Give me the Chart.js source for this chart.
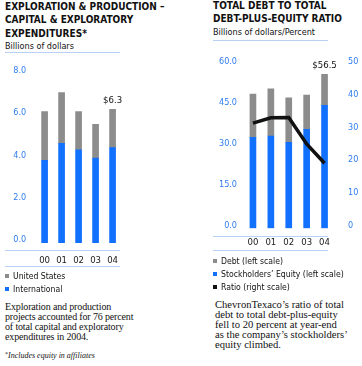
<!DOCTYPE html>
<html>
<head>
<meta charset="utf-8">
<script src="https://cdn.jsdelivr.net/npm/chart.js@4.4.1/dist/chart.umd.min.js"></script>
<style>
  html, body { margin:0; padding:0; background:#fff; }
  body { width:362px; height:366px; position:relative; overflow:hidden; }
  .abs { position:absolute; white-space:nowrap; }
  .sans { font-family:"Liberation Sans Narrow","Arial Narrow","DejaVu Sans Condensed","Liberation Sans",sans-serif; }
  .serif { font-family:"Liberation Serif","Times New Roman",serif; }
  .title { font-weight:bold; font-size:10px; line-height:13.3px; color:#111; }
  .sub { font-size:9px; line-height:12px; color:#111; }
  .rule { position:absolute; height:1px; background:#b9d0f5; }
  .leg { font-size:8.6px; line-height:12px; color:#111; }
  .sq { display:inline-block; width:4px; height:4px; margin-right:4px; vertical-align:1px; }
  .para { font-size:10px; line-height:10.2px; color:#111; }
  canvas { position:absolute; }
</style>
</head>
<body>
<div class="abs sans title" style="left:5px;top:0px;">EXPLORATION &amp; PRODUCTION –<br>CAPITAL &amp; EXPLORATORY<br>EXPENDITURES*</div>
<div class="abs sans sub" style="left:5px;top:39.7px;">Billions of dollars</div>
<div class="rule" style="left:5px;top:52px;width:115px;"></div>

<div class="abs sans title" style="left:213px;top:0px;line-height:12.7px;">TOTAL DEBT TO TOTAL<br>DEBT-PLUS-EQUITY RATIO</div>
<div class="abs sans sub" style="left:213px;top:26.3px;">Billions of dollars/Percent</div>
<div class="rule" style="left:213px;top:39.5px;width:115px;"></div>

<canvas id="cL" width="130" height="215" style="left:0px;top:55px;width:130px;height:215px;"></canvas>
<canvas id="cR" width="162" height="210" style="left:200px;top:45px;width:162px;height:210px;"></canvas>

<div class="rule" style="left:5px;top:249.5px;width:115px;"></div>
<div class="rule" style="left:5px;top:265.5px;width:115px;"></div>
<div class="rule" style="left:213px;top:235.5px;width:115px;"></div>
<div class="rule" style="left:213px;top:249.5px;width:115px;"></div>

<div id="legL"></div>
<div id="legR"></div>

<div class="abs serif para" style="left:5px;top:301.5px;letter-spacing:-0.15px;">Exploration and production<br>projects accounted for 76 percent<br>of total capital and exploratory<br>expenditures in 2004.</div>
<div class="abs serif" style="left:5px;top:349px;font-size:8px;line-height:10px;font-style:italic;color:#111;"><span style="font-size:6px;vertical-align:2px;font-style:normal;">*</span>Includes equity in affiliates</div>

<div class="abs serif para" style="left:215px;top:300px;line-height:10px;font-size:10.6px;">ChevronTexaco’s ratio of total<br>debt to total debt-plus-equity<br>fell to 20 percent at year-end<br>as the company’s stockholders’<br>equity climbed.</div>

<script>
// ---- data ----
const years = ['00','01','02','03','04'];
// Exploration & production capital and exploratory expenditures, $ billions
const epIntl = [3.9, 4.7, 4.4, 4.0, 4.5];
const epUS   = [2.3, 2.4, 1.8, 1.6, 1.8];
// Total debt / equity, $ billions; ratio, percent
const equity = [33.4, 33.9, 31.6, 36.3, 45.2];
const debt   = [15.9, 17.3, 16.3, 12.6, 11.3];
const ratio  = [32.2, 33.8, 33.9, 25.8, 19.9];
// axis ticks
const leftTicks  = [0, 2, 4, 6, 8];
const rightLTicks = [0, 15, 30, 45, 60];
const rightRTicks = [0, 10, 20, 30, 40, 50];

const BLUE = '#1270ff';
const GRAY = '#8c8c8c';
const TICKBLUE = '#2f7df2';
const SANS = '"Liberation Sans Narrow","Arial Narrow","DejaVu Sans Condensed","Liberation Sans",sans-serif';

// HTML legends
function legend(id, items, left, tops) {
  const el = document.getElementById(id);
  items.forEach((it, i) => {
    const d = document.createElement('div');
    d.className = 'abs sans leg';
    d.style.left = left + 'px';
    d.style.top = (tops[i] - 6) + 'px';
    d.innerHTML = '<span class="sq" style="background:' + it[1] + '"></span>' + it[0];
    el.appendChild(d);
  });
}
legend('legL', [['United States', GRAY], ['International', BLUE]], 5, [275.7, 289.3]);
legend('legR', [['Debt (left scale)', GRAY], ['Stockholders’ Equity (left scale)', BLUE], ['Ratio (right scale)', '#111']], 213, [260.5, 273.5, 286.5]);

// value label on top of last stacked bar
const topLabel = {
  id: 'topLabel',
  afterDatasetsDraw(chart, args, opts) {
    const meta = chart.getDatasetMeta(opts.dataset);
    const el = meta.data[opts.index];
    const ctx = chart.ctx;
    ctx.save();
    ctx.font = '9.5px ' + SANS;
    ctx.fillStyle = '#111';
    ctx.textAlign = 'center';
    ctx.textBaseline = 'middle';
    ctx.fillText(opts.text, el.x, el.y - 8.8);
    ctx.restore();
  }
};

function tickOpts(pad, extra) {
  return Object.assign({
    color: TICKBLUE,
    font: { family: SANS, size: 9 },
    padding: pad,
    labelOffset: -3,
    autoSkip: false,
  }, extra || {});
}

const xScale = (h, pad) => ({
  stacked: true,
  grid: { display: false, drawTicks: false },
  border: { display: false },
  ticks: { color: '#222', font: { family: SANS, size: 9.5 }, padding: pad, maxRotation: 0 },
  afterFit(s) { s.height = h; }
});

new Chart(document.getElementById('cL'), {
  type: 'bar',
  data: {
    labels: years,
    datasets: [
      { label: 'International', data: epIntl, backgroundColor: BLUE, barThickness: 6, stack: 's' },
      { label: 'United States', data: epUS, backgroundColor: GRAY, barThickness: 6, stack: 's' }
    ]
  },
  options: {
    responsive: false, animation: false, devicePixelRatio: 1,
    layout: { padding: { top: 18.4, right: 4.9, bottom: 0, left: 0 } },
    plugins: {
      legend: { display: false }, tooltip: { enabled: false },
      topLabel: { dataset: 1, index: 4, text: '$' + (epIntl[4] + epUS[4]).toFixed(1) }
    },
    scales: {
      x: xScale(27, 11.5),
      y: {
        stacked: true, min: leftTicks[0], max: leftTicks[leftTicks.length - 1],
        afterBuildTicks(s) { s.ticks = leftTicks.map(v => ({ value: v })); },
        ticks: tickOpts(10, { callback: v => Number(v).toFixed(1) }),
        grid: { display: false, drawTicks: false },
        border: { display: false },
        afterFit(s) { s.width = 36.1; }
      }
    }
  },
  plugins: [topLabel]
});

new Chart(document.getElementById('cR'), {
  type: 'bar',
  data: {
    labels: years,
    datasets: [
      { type: 'line', label: 'Ratio (right scale)', data: ratio, yAxisID: 'y1', borderColor: '#111', borderWidth: 3.5,
        pointRadius: 0, tension: 0, order: 0, borderCapStyle: 'butt', borderJoinStyle: 'miter' },
      { label: 'Stockholders’ Equity (left scale)', data: equity, backgroundColor: BLUE, barThickness: 6, stack: 's', order: 1 },
      { label: 'Debt (left scale)', data: debt, backgroundColor: GRAY, barThickness: 6, stack: 's', order: 1 }
    ]
  },
  options: {
    responsive: false, animation: false, devicePixelRatio: 1,
    layout: { padding: { top: 14.1, right: 0.5, bottom: 0, left: 0 } },
    plugins: {
      legend: { display: false }, tooltip: { enabled: false },
      topLabel: { dataset: 2, index: 4, text: '$' + (equity[4] + debt[4]).toFixed(1) }
    },
    scales: {
      x: xScale(26.7, 9),
      y: {
        stacked: true, position: 'left', min: rightLTicks[0], max: rightLTicks[rightLTicks.length - 1],
        afterBuildTicks(s) { s.ticks = rightLTicks.map(v => ({ value: v })); },
        ticks: tickOpts(7, { callback: v => Number(v).toFixed(1) }),
        grid: { display: false, drawTicks: false },
        border: { display: false },
        afterFit(s) { s.width = 44; }
      },
      y1: {
        position: 'right', min: rightRTicks[0], max: rightRTicks[rightRTicks.length - 1],
        afterBuildTicks(s) { s.ticks = rightRTicks.map(v => ({ value: v })); },
        ticks: tickOpts(14.5, { callback: v => String(v) }),
        grid: { display: false, drawTicks: false },
        border: { display: false },
        afterFit(s) { s.width = 28; }
      }
    }
  },
  plugins: [topLabel]
});
</script>
</body>
</html>
